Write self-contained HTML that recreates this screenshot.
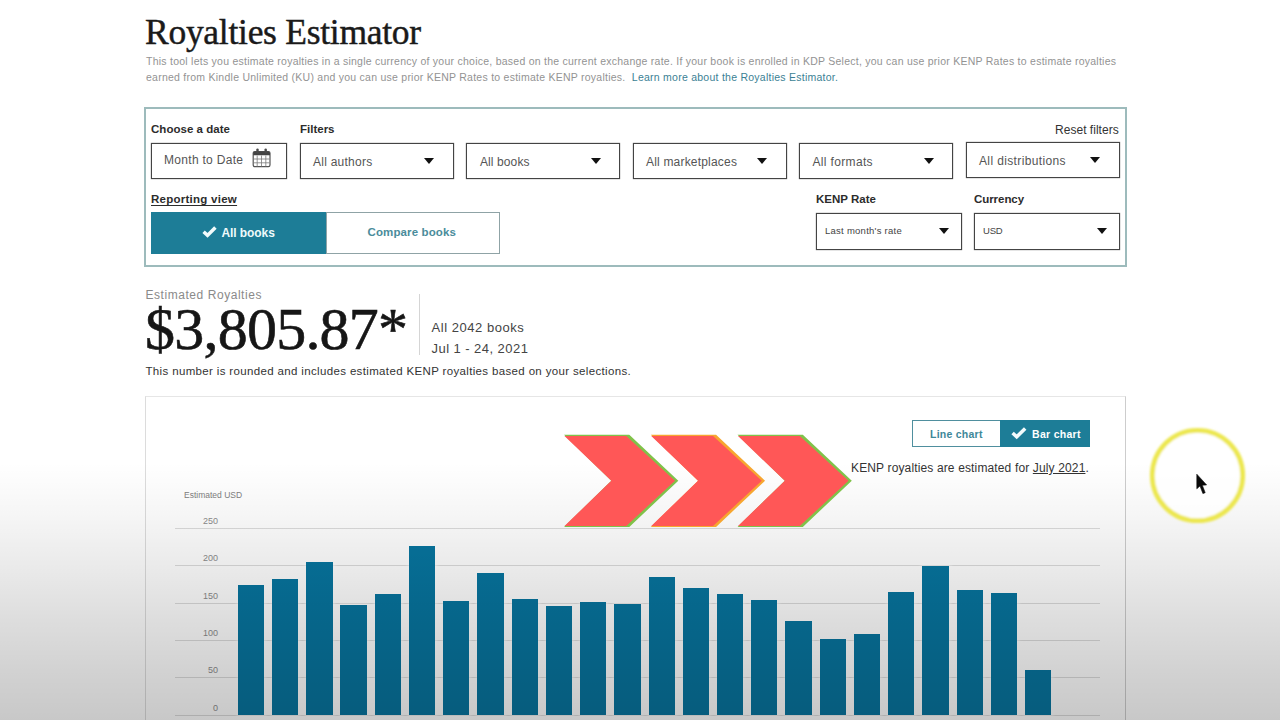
<!DOCTYPE html>
<html lang="en">
<head>
<meta charset="utf-8">
<title>Royalties Estimator</title>
<style>
  html, body { margin: 0; padding: 0; }
  html { width: 1280px; height: 720px; overflow: hidden; }
  body {
    width: 1280px; height: 720px; overflow: hidden; position: relative;
    background: #ffffff;
    font-family: "Liberation Sans", sans-serif;
    color: #222;
  }
  .abs { position: absolute; }
  .t { position: absolute; white-space: nowrap; line-height: 1; }
  .serif { font-family: "Liberation Serif", serif; }
  .b { font-weight: bold; }

  /* video-player style bottom shade, sits above everything */
  #shade {
    position: absolute; left: 0; top: 0; width: 1280px; height: 720px; z-index: 50; pointer-events: none;
    background: linear-gradient(to bottom,
      rgba(0,0,0,0) 0px,
      rgba(0,0,0,0) 462px,
      rgba(0,0,0,0.010) 480px,
      rgba(0,0,0,0.036) 513px,
      rgba(0,0,0,0.082) 567px,
      rgba(0,0,0,0.135) 620px,
      rgba(0,0,0,0.185) 680px,
      rgba(0,0,0,0.215) 720px);
  }

  /* filter panel */
  #filters {
    position: absolute; left: 144px; top: 107px; width: 979px; height: 156px;
    border: 2px solid #9dbbbc; background: #fff;
  }
  .box { position: absolute; border: 1px solid #444; background: #fff; box-sizing: border-box; box-shadow: 0 0 1px rgba(40,40,40,0.75); }
  .caret {
    position: absolute; width: 0; height: 0;
    border-left: 5.5px solid transparent; border-right: 5.5px solid transparent;
    border-top: 6px solid #111;
  }
  .lbl { font-size: 11.5px; font-weight: bold; color: #2c2c2c; }
  .opt { font-size: 12px; color: #555; }

  /* toggles */
  .tg-on  { position: absolute; background: #1d7d97; box-sizing: border-box; }
  .tg-off { position: absolute; background: #fff; border: 1.5px solid #8fa3a6; box-sizing: border-box; }

  /* chart */
  #panel {
    position: absolute; left: 145px; top: 396px; width: 981px; height: 324px; border-bottom: none !important;
    border: 1px solid #dcdcdc; border-top-color: #e6e6e6; border-right-color: #cdcdcd; background: #fff; box-sizing: border-box;
  }
  .grid { position: absolute; left: 175px; width: 925px; height: 1px; background: #dcdcdc; }
  .ylab { position: absolute; width: 40px; left: 178px; text-align: right; font-size: 9px; color: #8c8c8c; line-height: 1; }
  .bar  { position: absolute; width: 26.4px; background: #07759f; box-shadow: 0 0 3px 2.5px rgba(255,255,255,0.55); }
</style>
</head>
<body>

<!-- heading -->
<div class="t serif" id="title" style="left:145px; top:15.4px; font-size:35.5px; color:#1a1a1a; -webkit-text-stroke:0.45px #1a1a1a; letter-spacing:-0.27px;">Royalties Estimator</div>
<div class="t" id="desc1" style="left:146px; top:56px; font-size:10.5px; color:#939393; letter-spacing:0.25px;">This tool lets you estimate royalties in a single currency of your choice, based on the current exchange rate. If your book is enrolled in KDP Select, you can use prior KENP Rates to estimate royalties</div>
<div class="t" id="desc2" style="left:146px; top:72px; font-size:10.5px; color:#939393; letter-spacing:0.25px;">earned from Kindle Unlimited (KU) and you can use prior KENP Rates to estimate KENP royalties.&nbsp; <span id="learn" style="color:#3b7f94;">Learn more about the Royalties Estimator.</span></div>

<!-- filter panel -->
<div id="filters"></div>

<div class="t lbl" id="l-date" style="left:151px; top:124.0px; letter-spacing:0.03px;">Choose a date</div>
<div class="t lbl" id="l-filters" style="left:300px; top:124.0px; letter-spacing:0.00px;">Filters</div>
<div class="t" id="l-reset" style="left:1055px; top:123.7px; font-size:12px; color:#333; letter-spacing:0.03px;">Reset filters</div>

<div class="box" style="left:151px; top:143px; width:136px; height:36px;"></div>
<div class="t opt" id="o-date" style="left:164px; top:153.7px; letter-spacing:0.30px;">Month to Date</div>

<div class="box" style="left:300px; top:143px; width:154px; height:36px;"></div>
<div class="t opt" id="o-auth" style="left:313px; top:155.8px; letter-spacing:0.25px;">All authors</div>
<div class="caret" style="left:424px; top:158px;"></div>

<div class="box" style="left:466px; top:143px; width:154px; height:36px;"></div>
<div class="t opt" id="o-books" style="left:480px; top:155.9px; letter-spacing:0.10px;">All books</div>
<div class="caret" style="left:590.5px; top:158px;"></div>

<div class="box" style="left:633px; top:143px; width:154px; height:36px;"></div>
<div class="t opt" id="o-mkt" style="left:646px; top:155.9px; letter-spacing:0.19px;">All marketplaces</div>
<div class="caret" style="left:757px; top:158px;"></div>

<div class="box" style="left:799px; top:143px; width:154px; height:36px;"></div>
<div class="t opt" id="o-fmt" style="left:812.5px; top:155.9px; letter-spacing:0.34px;">All formats</div>
<div class="caret" style="left:923.5px; top:158px;"></div>

<div class="box" style="left:966px; top:141.5px; width:154px; height:36px;"></div>
<div class="t opt" id="o-dist" style="left:979px; top:154.5px; letter-spacing:0.37px;">All distributions</div>
<div class="caret" style="left:1090px; top:157px;"></div>

<div class="t lbl" id="l-rv" style="left:151px; top:194.4px; text-decoration:underline; text-underline-offset:1.5px; letter-spacing:0.26px;">Reporting view</div>
<div class="tg-on"  style="left:151px; top:212.4px; width:175px; height:41.6px;"></div>
<div class="tg-off" style="left:325.5px; top:212.4px; width:174px; height:41.6px;"></div>
<div class="t b" id="tg-all" style="left:221.5px; top:226.9px; font-size:12px; color:#eefafb; letter-spacing:-0.08px;">All books</div>
<div class="t b" id="tg-cmp" style="left:367.5px; top:227.4px; font-size:11.5px; color:#4a8c9b; letter-spacing:0.12px;">Compare books</div>

<div class="t lbl" id="l-kenp" style="left:816px; top:194.2px; letter-spacing:0.00px;">KENP Rate</div>
<div class="box" style="left:816px; top:213px; width:146px; height:36.5px;"></div>
<div class="t" id="o-kenp" style="left:825px; top:226.2px; font-size:9.5px; color:#444; letter-spacing:0.26px;">Last month's rate</div>
<div class="caret" style="left:938.6px; top:227.6px; border-left-width:5.8px; border-right-width:5.8px; border-top-width:6.6px;"></div>

<div class="t lbl" id="l-cur" style="left:974px; top:194.2px; letter-spacing:-0.06px;">Currency</div>
<div class="box" style="left:974px; top:213px; width:146px; height:36.5px;"></div>
<div class="t" id="o-cur" style="left:983px; top:226.2px; font-size:9.5px; color:#444; letter-spacing:-0.20px;">USD</div>
<div class="caret" style="left:1096.8px; top:227.6px; border-left-width:5.8px; border-right-width:5.8px; border-top-width:6.6px;"></div>

<!-- estimate -->
<div class="t" id="est-l" style="left:145.5px; top:289.1px; font-size:12px; color:#8a8a8a; letter-spacing:0.55px;">Estimated Royalties</div>
<div class="t serif" id="amount" style="left:145px; top:299.2px; font-size:60px; color:#161616; -webkit-text-stroke:0.6px #161616; letter-spacing:-0.77px;">$3,805.87*</div>
<div class="abs" style="left:419px; top:294px; width:1px; height:61px; background:#d5d5d5;"></div>
<div class="t" id="est-a" style="left:431.5px; top:321.3px; font-size:13px; color:#444; letter-spacing:0.54px;">All 2042 books</div>
<div class="t" id="est-b" style="left:431.5px; top:341.5px; font-size:13px; color:#444; letter-spacing:0.45px;">Jul 1 - 24, 2021</div>
<div class="t" id="est-n" style="left:145.5px; top:366.4px; font-size:11.5px; color:#333; letter-spacing:0.35px;">This number is rounded and includes estimated KENP royalties based on your selections.</div>

<!-- chart panel -->
<div id="panel"></div>
<div class="tg-off" style="left:912px; top:419.6px; width:89px; height:27.4px; border:1.5px solid #4f8f9e;"></div>
<div class="tg-on"  style="left:1000px; top:419.6px; width:89.8px; height:27.4px;"></div>
<div class="t b" id="c-line" style="left:930px; top:428.7px; font-size:10.5px; color:#3d8799; letter-spacing:0.25px;">Line chart</div>
<div class="t b" id="c-bar" style="left:1032px; top:428.7px; font-size:10.5px; color:#fff; letter-spacing:0.30px;">Bar chart</div>
<div class="t" id="c-note" style="left:851px; top:462.0px; font-size:12px; color:#333; letter-spacing:0.14px;">KENP royalties are estimated for <span style="text-decoration:underline;">July 2021</span>.</div>

<div class="t" id="c-usd" style="left:184px; top:490.5px; font-size:8.5px; color:#808080; letter-spacing:0.00px;">Estimated USD</div>

<!-- chart grid -->
<div class="grid" style="top:527.8px;"></div>
<div class="grid" style="top:565.1px;"></div>
<div class="grid" style="top:602.5px;"></div>
<div class="grid" style="top:639.8px;"></div>
<div class="grid" style="top:677.2px;"></div>
<div class="grid" style="top:714.5px;"></div>
<!-- y axis labels -->
<div class="ylab" style="top:516.8px;">250</div>
<div class="ylab" style="top:554.1px;">200</div>
<div class="ylab" style="top:591.5px;">150</div>
<div class="ylab" style="top:628.8px;">100</div>
<div class="ylab" style="top:666.2px;">50</div>
<div class="ylab" style="top:703.5px;">0</div>
<!-- bars -->
<div class="bar" style="left:237.7px; top:585.3px; height:129.7px;"></div>
<div class="bar" style="left:271.9px; top:578.7px; height:136.3px;"></div>
<div class="bar" style="left:306.2px; top:561.7px; height:153.3px;"></div>
<div class="bar" style="left:340.4px; top:605.0px; height:110.0px;"></div>
<div class="bar" style="left:374.6px; top:594.3px; height:120.7px;"></div>
<div class="bar" style="left:408.8px; top:546.0px; height:169.0px;"></div>
<div class="bar" style="left:443.1px; top:601.0px; height:114.0px;"></div>
<div class="bar" style="left:477.3px; top:572.7px; height:142.3px;"></div>
<div class="bar" style="left:511.5px; top:598.7px; height:116.3px;"></div>
<div class="bar" style="left:545.8px; top:606.0px; height:109.0px;"></div>
<div class="bar" style="left:580.0px; top:602.3px; height:112.7px;"></div>
<div class="bar" style="left:614.2px; top:604.0px; height:111.0px;"></div>
<div class="bar" style="left:648.5px; top:576.7px; height:138.3px;"></div>
<div class="bar" style="left:682.7px; top:587.7px; height:127.3px;"></div>
<div class="bar" style="left:716.9px; top:594.0px; height:121.0px;"></div>
<div class="bar" style="left:751.1px; top:600.3px; height:114.7px;"></div>
<div class="bar" style="left:785.4px; top:620.7px; height:94.3px;"></div>
<div class="bar" style="left:819.6px; top:638.7px; height:76.3px;"></div>
<div class="bar" style="left:853.8px; top:634.3px; height:80.7px;"></div>
<div class="bar" style="left:888.1px; top:592.0px; height:123.0px;"></div>
<div class="bar" style="left:922.3px; top:566.3px; height:148.7px;"></div>
<div class="bar" style="left:956.5px; top:590.0px; height:125.0px;"></div>
<div class="bar" style="left:990.8px; top:593.0px; height:122.0px;"></div>
<div class="bar" style="left:1025.0px; top:670.3px; height:44.7px;"></div>
<!-- red chevrons -->
<svg class="abs" style="left:555px; top:425px; z-index:55;" width="310" height="112" viewBox="555 425 310 112">
  <g>
    <polygon points="564,434.7 629.3,434.7 678.3,480.8 629.3,526.9 564,526.9 611.3,480.8" fill="#80c24a"/>
    <polygon points="564.5,436 626.3,436 675,480.8 626.3,526 564.5,526 611.3,480.8" fill="#ff5757"/>
  </g>
  <g transform="translate(86.75,0)">
    <polygon points="564,434.7 629.3,434.7 678.3,480.8 629.3,526.9 564,526.9 611.3,480.8" fill="#f7a630"/>
    <polygon points="564.5,436 626.3,436 675,480.8 626.3,526 564.5,526 611.3,480.8" fill="#ff5757"/>
  </g>
  <g transform="translate(173.5,0)">
    <polygon points="564,434.7 629.3,434.7 678.3,480.8 629.3,526.9 564,526.9 611.3,480.8" fill="#80c24a"/>
    <polygon points="564.5,436 626.3,436 675,480.8 626.3,526 564.5,526 611.3,480.8" fill="#ff5757"/>
  </g>
</svg>

<!-- calendar icon -->
<svg class="abs" style="left:252px; top:148px;" width="20" height="20" viewBox="0 0 20 20">
  <rect x="1.2" y="3.5" width="16.8" height="15.2" rx="1.6" fill="#fff" stroke="#555" stroke-width="1.2"/>
  <path d="M1.2 7.3 V5 Q1.2 3.5 2.8 3.5 H16.4 Q18 3.5 18 5 V7.3 Z" fill="#444"/>
  <rect x="4.3" y="0.4" width="2.4" height="5" rx="1.2" fill="#4a4a4a"/>
  <rect x="12.5" y="0.4" width="2.4" height="5" rx="1.2" fill="#4a4a4a"/>
  <g stroke="#7a7a7a" stroke-width="0.8">
    <line x1="5.2" y1="7.5" x2="5.2" y2="18.5"/><line x1="9.5" y1="7.5" x2="9.5" y2="18.5"/><line x1="13.8" y1="7.5" x2="13.8" y2="18.5"/>
    <line x1="1.5" y1="11" x2="17.5" y2="11"/><line x1="1.5" y1="14.8" x2="17.5" y2="14.8"/>
  </g>
</svg>

<!-- check marks -->
<svg class="abs" style="left:202px; top:225px;" width="16" height="14" viewBox="0 0 16 14">
  <path d="M1.6 6.8 L5.5 10.4 L13.4 2.4" fill="none" stroke="#f2fbfc" stroke-width="3.5"/>
</svg>
<svg class="abs" style="left:1011px; top:426px;" width="17" height="15" viewBox="0 0 17 15">
  <path d="M1.6 7.0 L5.7 10.8 L14.2 2.4" fill="none" stroke="#f2fbfc" stroke-width="3.5"/>
</svg>

<!-- highlight ring + pointer -->
<svg class="abs" style="left:1140px; top:418px; z-index:60;" width="116" height="116" viewBox="1140 418 116 116">
  <defs><filter id="soft" x="-10%" y="-10%" width="120%" height="120%"><feGaussianBlur stdDeviation="0.8"/></filter></defs>
  <circle cx="1197.5" cy="475.5" r="45.2" fill="rgba(255,255,255,0.8)" stroke="#ece74f" stroke-width="4.8" filter="url(#soft)"/>
  <path d="M1196.8 474.2 L1196.8 488.8 L1200.0 485.9 L1202.9 493.6 L1205.2 492.7 L1202.3 485.2 L1206.6 484.9 Z" fill="#0a0a0a" stroke="#0a0a0a" stroke-width="0.6" stroke-linejoin="round"/>
</svg>

<div id="shade"></div>
</body>
</html>
